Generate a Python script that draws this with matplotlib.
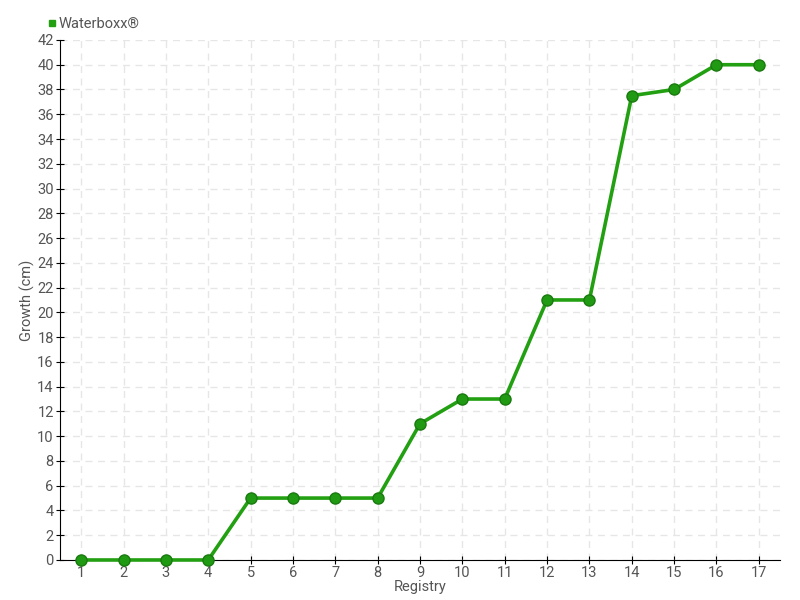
import matplotlib
matplotlib.use("Agg")
import matplotlib.pyplot as plt
from matplotlib.lines import Line2D

registry = list(range(1, 18))
growth = [0, 0, 0, 0, 5, 5, 5, 5, 11, 13, 13, 21, 21, 37.5, 38, 40, 40]
series_name = "Waterboxx®"
yticks = list(range(0, 43, 2))

plt.rcParams['font.family'] = ['Roboto', 'DejaVu Sans']
txt = '#555555'

fig = plt.figure(figsize=(8, 6), dpi=100)
ax = fig.add_axes([0.075, 0.0667, 0.9, 0.8667])

ax.plot(registry, growth, color='#22a012', lw=2.6, marker='o', ms=8,
        markerfacecolor='#1f9a12', markeredgecolor='#1a7a10', markeredgewidth=1, zorder=3, clip_on=False)

ax.set_xlim(0.5, 17.5)
ax.set_ylim(0, 42)
ax.set_xticks(registry)
ax.set_yticks(yticks)
ax.grid(True, color='#e6e6e6', linestyle=(0, (5, 4)), lw=1)
for s in ['top', 'right']:
    ax.spines[s].set_visible(False)
ax.spines['left'].set_color('black')
ax.spines['bottom'].set_color('black')
ax.tick_params(axis='y', direction='inout', length=6, colors='black', labelcolor=txt, labelsize=10.5, pad=1.5)
ax.tick_params(axis='x', direction='inout', length=6, colors='black', labelcolor=txt, labelsize=10.5, pad=1)
ax.set_xlabel('Registry', color=txt, fontsize=10.5, labelpad=0)
ax.set_ylabel('Growth (cm)', color=txt, fontsize=10.5)
ax.yaxis.set_label_coords(-0.035, 0.5)

handle = Line2D([], [], marker='s', color='#22a012', lw=0, ms=5)
ax.legend([handle], [series_name], loc='lower left', bbox_to_anchor=(-0.032, 1.0), frameon=False,
          handletextpad=0.05, handlelength=0.8, fontsize=10.5, labelcolor=txt, borderaxespad=0.2)

fig.savefig('out.png', dpi=100)
